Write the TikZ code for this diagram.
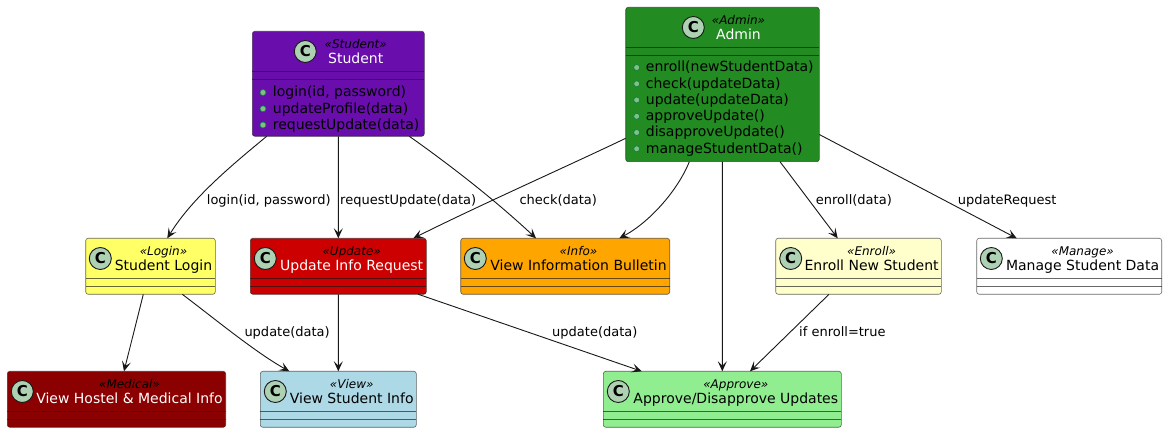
\documentclass[tikz,border=0pt]{standalone}
\usepackage{fontspec}
\setmainfont{DejaVu Sans}
\usetikzlibrary{arrows.meta}
\definecolor{edgec}{HTML}{181818}
\definecolor{circc}{HTML}{ADD1B2}
\definecolor{cstudent}{HTML}{6A0DAD}
\definecolor{cadmin}{HTML}{228B22}
\definecolor{clogin}{HTML}{FFFF66}
\definecolor{cupdate}{HTML}{CC0000}
\definecolor{cinfo}{HTML}{FFA500}
\definecolor{cenroll}{HTML}{FFFFCC}
\definecolor{cmedical}{HTML}{8B0000}
\definecolor{cview}{HTML}{ADD8E6}
\definecolor{capprove}{HTML}{90EE90}
\definecolor{bulletfill}{HTML}{84BE84}
\definecolor{bulletdraw}{HTML}{038048}
\tikzset{
  classbox/.style={draw=edgec,draw opacity=0.65,line width=0.6bp,rounded corners=2.5bp,inner sep=0pt,outer sep=0pt},
  seprule/.style={draw=edgec,draw opacity=0.65,line width=0.6bp},
  circlebadge/.style={circle,draw=edgec,line width=0.9bp,fill=circc,minimum size=22bp,inner sep=0pt,font=\fontsize{15bp}{16bp}\selectfont\bfseries},
  stereotext/.style={anchor=base,inner sep=0pt,font=\fontsize{12bp}{14bp}\selectfont\itshape},
  titletext/.style={anchor=base,inner sep=0pt,font=\fontsize{14bp}{16bp}\selectfont},
  methodtext/.style={anchor=base west,inner sep=0pt,font=\fontsize{14bp}{16bp}\selectfont},
  bulletdot/.style={circle,draw=bulletdraw,line width=0.6bp,fill=bulletfill,minimum size=6bp,inner sep=0pt},
  conn/.style={draw=edgec,line width=0.9bp,-{Stealth[length=10bp,width=9bp,inset=4.5bp]}},
  edgelabel/.style={anchor=base west,inner sep=0pt,font=\fontsize{13bp}{15bp}\selectfont},
}
% id, x0, y0, x1, y1, fill, title colour, circle x, text centre x, stereotype, title
\newcommand{\umlclass}[9]{%
  \def\clsid{#1}\def\clsxa{#2}\def\clsya{#3}\def\clsxb{#4}\def\clsyb{#5}\def\clsfill{#6}\def\clstc{#7}\def\clscx{#8}\def\clstx{#9}%
  \umlclassrest}
\newcommand{\umlclassrest}[2]{%
  \node[classbox,fill=\clsfill,minimum width={(\clsxb-\clsxa)*1bp},minimum height={(\clsyb-\clsya)*1bp}]
    (\clsid) at ({(\clsxa+\clsxb)/2},{(\clsya+\clsyb)/2}) {};
  \draw[seprule] ([yshift=-40.2bp]\clsid.north west) -- ([yshift=-40.2bp]\clsid.north east);
  \draw[seprule] ([yshift=-48bp]\clsid.north west) -- ([yshift=-48bp]\clsid.north east);
  \node[circlebadge] (\clsid-c) at (\clscx,\clsya+20.2) {C};
  \node[stereotext] (\clsid-s) at (\clstx,\clsya+16.8) {«#1»};
  \node[titletext,text=\clstc] (\clsid-t) at (\clstx,\clsya+32) {#2};
}
% id, bullet x, text x, baseline y, text
\newcommand{\umlmethod}[5]{%
  \node[bulletdot] (#1-b) at (#2,#4-4.5) {};
  \node[methodtext] (#1) at (#3,#4) {#5};
}
\begin{document}
\begin{tikzpicture}[x=1bp,y=-1bp]
\useasboundingbox[fill=white] (0,0) rectangle (1167,433);

\umlclass{student}{252.3}{31.3}{424.3}{136.3}{cstudent}{white}{305.3}{355.7}{Student}{Student}
\umlmethod{s1}{263}{272.7}{97}{login(id, password)}
\umlmethod{s2}{263}{272.7}{113.3}{updateProfile(data)}
\umlmethod{s3}{263}{272.7}{129.5}{requestUpdate(data)}

\umlclass{admin}{625.7}{7.3}{819.3}{161.7}{cadmin}{white}{693.3}{738.5}{Admin}{Admin}
\umlmethod{a1}{636.7}{645.7}{72}{enroll(newStudentData)}
\umlmethod{a2}{636.7}{645.7}{88.3}{check(updateData)}
\umlmethod{a3}{636.7}{645.7}{104.5}{update(updateData)}
\umlmethod{a4}{636.7}{645.7}{120.8}{approveUpdate()}
\umlmethod{a5}{636.7}{645.7}{137}{disapproveUpdate()}
\umlmethod{a6}{636.7}{645.7}{153.3}{manageStudentData()}

\umlclass{login}{85.7}{238.3}{215.3}{294.3}{clogin}{black}{100.3}{163.5}{Login}{Student Login}
\umlclass{update}{250.3}{238.3}{426.3}{294.3}{cupdate}{white}{265.3}{351.7}{Update}{Update Info Request}
\umlclass{info}{460.7}{238.3}{669.7}{294.3}{cinfo}{black}{475.3}{578.5}{Info}{View Information Bulletin}
\umlclass{enroll}{775.7}{238.3}{941.3}{294.3}{cenroll}{black}{790.7}{871.6}{Enroll}{Enroll New Student}
\umlclass{manage}{976.7}{238.3}{1161.7}{294.3}{white}{black}{991.3}{1082.6}{Manage}{Manage Student Data}
\umlclass{medical}{7.3}{371.3}{225.7}{427.3}{cmedical}{white}{22.3}{129.5}{Medical}{View Hostel \& Medical Info}
\umlclass{view}{260.3}{371.3}{416.3}{427.3}{cview}{black}{275.3}{351.7}{View}{View Student Info}
\umlclass{approve}{603.3}{371.3}{841.3}{427.3}{capprove}{black}{618.3}{735.8}{Approve}{Approve/Disapprove Updates}

% connectors
\draw[conn] ([xshift=14.4bp]student.south west) .. controls (232,165) and (192,198) .. ([xshift=81.6bp]login.north west);
\draw[conn] ([xshift=86bp]student.south west) -- ([xshift=88bp]update.north west);
\draw[conn] ([xshift=157bp]student.south west) .. controls (450,165) and (495,200) .. ([xshift=75.3bp]info.north west);
\draw[conn] ([yshift=23.4bp]admin.south west) .. controls (570,165) and (480,205) .. ([xshift=163bp]update.north west);
\draw[conn] ([xshift=63.6bp]admin.south west) .. controls (678,190) and (650,222) .. ([xshift=158.6bp]info.north west);
\draw[conn] ([xshift=96.6bp]admin.south west) -- ([xshift=119bp]approve.north west);
\draw[conn] ([xshift=154.3bp]admin.south west) -- ([xshift=62bp]enroll.north west);
\draw[conn] ([yshift=27.2bp]admin.south east) -- ([xshift=40bp]manage.north west);
\draw[conn] ([xshift=57.6bp]login.south west) -- ([xshift=116.7bp]medical.north west);
\draw[conn] ([xshift=96.6bp]login.south west) .. controls (215,319) and (255,352) .. ([xshift=29bp]view.north west);
\draw[conn] ([xshift=88bp]update.south west) -- ([xshift=78bp]view.north west);
\draw[conn] ([xshift=168bp]update.south west) -- ([xshift=38.4bp]approve.north west);
\draw[conn] ([xshift=53.3bp]enroll.south west) -- ([xshift=146.7bp]approve.north west);

% labels
\node[edgelabel] (l1) at (206.7,204.5) {login(id, password)};
\node[edgelabel] (l2) at (340,204.5) {requestUpdate(data)};
\node[edgelabel] (l3) at (519.3,204.5) {check(data)};
\node[edgelabel] (l4) at (815.7,204.5) {enroll(data)};
\node[edgelabel] (l5) at (957.7,204.5) {updateRequest};
\node[edgelabel] (l6) at (244.3,337) {update(data)};
\node[edgelabel] (l7) at (552,337) {update(data)};
\node[edgelabel] (l8) at (799,337) {if enroll=true};
\end{tikzpicture}
\end{document}
